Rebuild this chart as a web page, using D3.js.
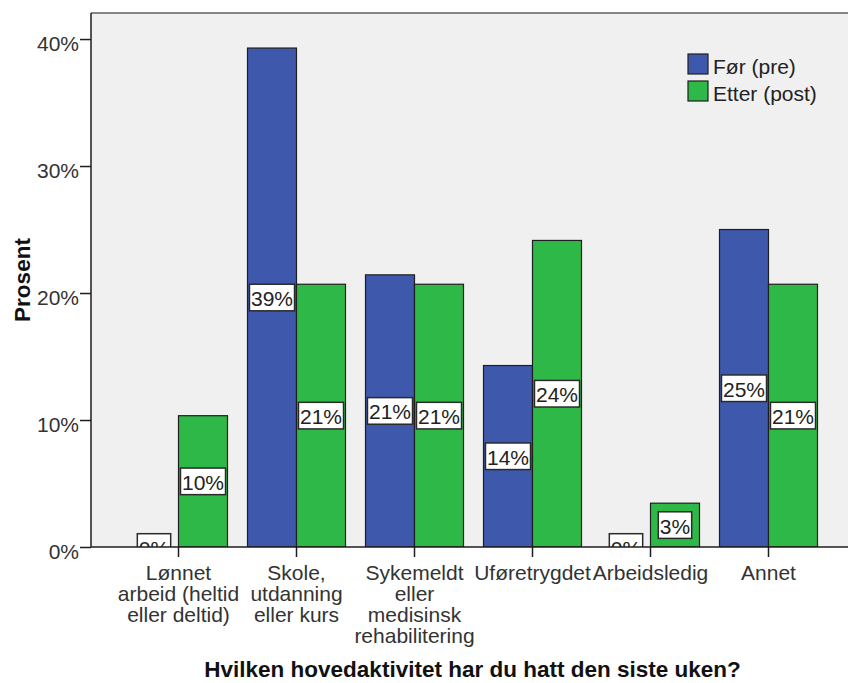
<!DOCTYPE html>
<html>
<head>
<meta charset="utf-8">
<script src="https://cdn.jsdelivr.net/npm/d3@7"></script>
<style>
  html, body { margin: 0; padding: 0; background: #ffffff; }
  svg { display: block; }
  text { font-family: "Liberation Sans", Arial, sans-serif; }
</style>
</head>
<body>
<svg id="chart" width="848" height="683"></svg>
<script>
// ---- data ----
const categories = [
  "Lønnet\narbeid (heltid\neller deltid)",
  "Skole,\nutdanning\neller kurs",
  "Sykemeldt\neller\nmedisinsk\nrehabilitering",
  "Uføretrygdet",
  "Arbeidsledig",
  "Annet"
];
const seriesNames = ["Før (pre)", "Etter (post)"];
const preValues  = [0, 39.29, 21.43, 14.29, 0, 25.0];
const postValues = [10.34, 20.69, 20.69, 24.14, 3.45, 20.69];
const yTicks = [0, 10, 20, 30, 40];
const yTitle = "Prosent";
const xTitle = "Hvilken hovedaktivitet har du hatt den siste uken?";

// ---- styles ----
const colors = ["#3E58AC", "#2EB848"];
const plot = { left: 91, right: 848, top: 13, bottom: 547 };
const fontReg = 21;

const svg = d3.select("#chart");

const x = d3.scaleBand()
  .domain(categories)
  .range([119.5, 827.5])
  .paddingInner(20 / 118)
  .paddingOuter(10 / 118);

const xs = d3.scaleBand()
  .domain(seriesNames)
  .range([0, x.bandwidth()])
  .padding(0);

const y = d3.scaleLinear()
  .domain([0, 42.05])
  .range([plot.bottom, plot.top]);

// plot background
svg.append("rect")
  .attr("x", plot.left).attr("y", plot.top)
  .attr("width", plot.right - plot.left).attr("height", plot.bottom - plot.top)
  .attr("fill", "#F0F0F0");

// top frame
svg.append("line")
  .attr("x1", plot.left).attr("x2", plot.right)
  .attr("y1", plot.top).attr("y2", plot.top)
  .attr("stroke", "#858585").attr("stroke-width", 2);

// clip
svg.append("defs").append("clipPath").attr("id", "plotclip")
  .append("rect")
  .attr("x", plot.left).attr("y", plot.top)
  .attr("width", plot.right - plot.left).attr("height", plot.bottom - plot.top);

const rows = categories.map((c, i) => ({ cat: c, values: [preValues[i], postValues[i]] }));

const gBars = svg.append("g").attr("clip-path", "url(#plotclip)");
const groups = gBars.selectAll("g.grp").data(rows).join("g")
  .attr("class", "grp")
  .attr("transform", d => `translate(${x(d.cat)},0)`);

groups.selectAll("rect").data(d => d.values.map((v, k) => ({ v, k })).filter(e => e.v > 0))
  .join("rect")
  .attr("x", e => xs(seriesNames[e.k]))
  .attr("width", xs.bandwidth())
  .attr("y", e => y(e.v))
  .attr("height", e => y(0) - y(e.v))
  .attr("fill", e => colors[e.k])
  .attr("stroke", "#1e1e1e")
  .attr("stroke-width", 1.2);

// value labels
const labelData = [];
rows.forEach(r => r.values.forEach((v, k) => labelData.push({ cat: r.cat, v, k })));
const gLab = gBars.append("g");
labelData.forEach(d => {
  const cx = x(d.cat) + xs(seriesNames[d.k]) + xs.bandwidth() / 2;
  const cy = (y(d.v) + y(0)) / 2;
  const g = gLab.append("g");
  const t = g.append("text")
    .attr("x", cx).attr("y", cy + 8.5)
    .attr("text-anchor", "middle")
    .attr("font-size", fontReg)
    .attr("fill", "#222")
    .text(Math.round(d.v) + "%");
  const w = t.node().getComputedTextLength() + 3;
  g.insert("rect", "text")
    .attr("x", cx - w / 2).attr("y", cy - 13.3)
    .attr("width", w).attr("height", 26.6)
    .attr("fill", "#ffffff")
    .attr("stroke", "#2a2a2a").attr("stroke-width", 1.5);
});

// y axis
const yAxis = svg.append("g")
  .attr("transform", `translate(${plot.left},0)`)
  .call(d3.axisLeft(y).tickValues(yTicks).tickSize(11).tickPadding(1).tickFormat(d => d + "%"));
yAxis.select(".domain").attr("stroke", "#1e1e1e").attr("stroke-width", 1.5)
  .attr("d", `M0,${plot.top}V${plot.bottom}`);
yAxis.selectAll(".tick line").attr("stroke", "#1e1e1e").attr("stroke-width", 1.5);
yAxis.selectAll(".tick text")
  .attr("font-size", fontReg).attr("font-family", "Liberation Sans, Arial, sans-serif")
  .attr("fill", "#333").attr("dy", null).attr("y", 11.5);

// x axis
const xAxis = svg.append("g")
  .attr("transform", `translate(0,${plot.bottom})`)
  .call(d3.axisBottom(x).tickSize(10).tickFormat(""));
xAxis.select(".domain").attr("stroke", "#1e1e1e").attr("stroke-width", 1.5)
  .attr("d", `M${plot.left},0H${plot.right}`);
xAxis.selectAll(".tick line").attr("stroke", "#1e1e1e").attr("stroke-width", 1.5);
xAxis.selectAll(".tick").each(function(d) {
  const lines = d.split("\n");
  const t = d3.select(this).append("text")
    .attr("text-anchor", "middle")
    .attr("font-size", fontReg)
    .attr("font-family", "Liberation Sans, Arial, sans-serif")
    .attr("fill", "#333");
  lines.forEach((ln, i) => {
    t.append("tspan").attr("x", 0).attr("y", 33 + i * 21).text(ln);
  });
});

// axis titles
svg.append("text")
  .attr("transform", `translate(29.5,${(plot.top + plot.bottom) / 2}) rotate(-90)`)
  .attr("text-anchor", "middle")
  .attr("font-size", 22.5).attr("font-weight", "bold").attr("fill", "#111")
  .text(yTitle);

svg.append("text")
  .attr("x", 472.5).attr("y", 677)
  .attr("text-anchor", "middle")
  .attr("font-size", 22.5).attr("font-weight", "bold").attr("fill", "#111")
  .text(xTitle);

// legend
const legend = svg.append("g").attr("transform", "translate(688,54)");
seriesNames.forEach((s, i) => {
  legend.append("rect")
    .attr("x", 0).attr("y", i * 27)
    .attr("width", 20).attr("height", 20)
    .attr("fill", colors[i]).attr("stroke", "#1e1e1e").attr("stroke-width", 1.2);
  legend.append("text")
    .attr("x", 25).attr("y", i * 27 + 20)
    .attr("font-size", fontReg).attr("fill", "#222")
    .text(s);
});
</script>
</body>
</html>
